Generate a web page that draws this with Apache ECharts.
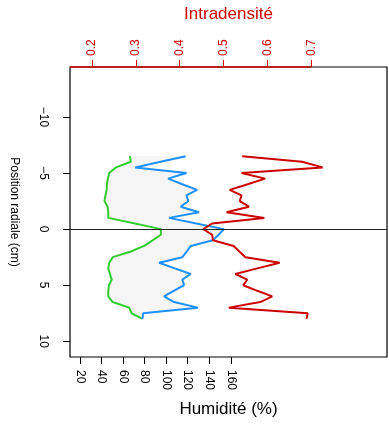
<!DOCTYPE html>
<html><head><meta charset="utf-8">
<script src="https://cdn.jsdelivr.net/npm/echarts@6/dist/echarts.min.js"></script>
<style>html,body{margin:0;padding:0;background:#fff}#c{width:389px;height:428px}</style>
</head><body><div id="c"></div>
<script>
// Radial positions (cm)
const positions = [-6.5,-6,-5.5,-5,-4.5,-4,-3.5,-3,-2.5,-2,-1.5,-1,-0.5,0,0.5,1,1.5,2,2.5,3,3.5,4,4.5,5,5.5,6,6.5,7,7.5,8];
// Humidity (%) - lower curve (green)
const humLow = [66.3,67.2,53.3,47.1,45.9,45,44.7,43.6,42.7,45.6,46.2,46.2,71,95,95,87.3,79.5,67.2,50.3,47.1,46.2,47.8,49.4,46.9,46.2,46.2,50.3,65.6,67.9,78];
// Humidity (%) - upper curve (blue)
const humHigh = [118.1,94.8,71.2,118.8,101.8,115,128.7,118.8,120.6,113.5,130.5,102.7,128,153.6,148.7,143.4,122.8,119,115,93.4,108,122.8,115,116.6,107,98,107.3,129.5,78.6,78];
// Intradensity (red, top axis)
const intradens = [0.5425,0.679,0.726,0.541,0.595,0.555,0.514,0.541,0.537,0.558,0.507,0.593,0.474,0.454,0.474,0.476,0.523,0.536,0.55,0.628,0.577,0.527,0.554,0.545,0.577,0.611,0.584,0.512,0.692,0.689];
// Tick labels
const humTicks = [20,40,60,80,100,120,140,160];
const densTicks = [0.2,0.3,0.4,0.5,0.6,0.7];
const posTicks = [-10,-5,0,5,10];

const FONT = '"Liberation Sans", Arial, sans-serif';
const RED = '#cc0000';
const posMin = -14.45, posMax = 11.4;
const humAxisMin = 10.7, humAxisMax = 305;
const densAxisMin = 0.15, densAxisMax = 0.8727;

const chart = echarts.init(document.getElementById('c'));
chart.setOption({
  animation: false,
  grid: {left: 69, right: 2, top: 67, bottom: 71, show: true, borderColor: '#000', borderWidth: 1.2, backgroundColor: 'transparent'},
  xAxis: [
    {type: 'value', position: 'bottom', min: humAxisMin, max: humAxisMax,
     name: 'Humidité (%)', nameLocation: 'middle', nameGap: 44,
     nameTextStyle: {fontFamily: FONT, fontSize: 17, color: '#000'},
     axisLine: {show: false, onZero: false}, splitLine: {show: false},
     axisTick: {show: true, length: 7, inside: false, customValues: humTicks, lineStyle: {color: '#000'}},
     axisLabel: {customValues: humTicks, rotate: -90, margin: 13, fontFamily: FONT, fontSize: 12, color: '#000'}},
    {type: 'value', position: 'top', min: densAxisMin, max: densAxisMax,
     name: 'Intradensité', nameLocation: 'middle', nameGap: 44,
     nameTextStyle: {fontFamily: FONT, fontSize: 17, color: RED},
     axisLine: {show: false, onZero: false}, splitLine: {show: false},
     axisTick: {show: true, length: 7, customValues: densTicks, lineStyle: {color: RED}},
     axisLabel: {customValues: densTicks, rotate: -90, margin: 11, fontFamily: FONT, fontSize: 12, color: RED}}
  ],
  yAxis: [
    {type: 'value', inverse: true, min: posMin, max: posMax,
     name: 'Position radiale (cm)', nameLocation: 'middle', nameGap: 50, nameRotate: -90,
     nameTextStyle: {fontFamily: FONT, fontSize: 12, color: '#000'},
     axisLine: {show: false, onZero: false}, splitLine: {show: false},
     axisTick: {show: true, length: 7, customValues: posTicks, lineStyle: {color: '#000'}},
     axisLabel: {customValues: posTicks, rotate: -90, margin: 21, fontFamily: FONT, fontSize: 12, color: '#000',
                 formatter: v => (v < 0 ? '\u2212' + Math.abs(v) : String(v))}}
  ],
  series: [
    {type: 'custom', xAxisIndex: 0, yAxisIndex: 0, silent: true, z: 1,
     data: [[humLow[0], positions[0]]],
     renderItem: function (params, api) {
       const pts = [];
       for (let i = 0; i < positions.length; i++) pts.push(api.coord([humLow[i], positions[i]]));
       for (let i = positions.length - 1; i >= 0; i--) pts.push(api.coord([humHigh[i], positions[i]]));
       return {type: 'polygon', shape: {points: pts}, style: {fill: '#f5f5f5', stroke: null}};
     }},
    {type: 'line', xAxisIndex: 0, yAxisIndex: 0, symbol: 'none', z: 3,
     lineStyle: {color: '#33cc33', width: 2},
     data: positions.map((p, i) => [humLow[i], p]),
     markLine: {silent: true, symbol: 'none', label: {show: false},
                lineStyle: {color: '#222', width: 1.2, type: 'solid'},
                data: [{yAxis: 0}]}},
    {type: 'line', xAxisIndex: 0, yAxisIndex: 0, symbol: 'none', z: 3,
     lineStyle: {color: '#1e90ff', width: 2},
     data: positions.map((p, i) => [humHigh[i], p])},
    {type: 'line', xAxisIndex: 1, yAxisIndex: 0, symbol: 'none', z: 4,
     lineStyle: {color: RED, width: 2},
     data: positions.map((p, i) => [intradens[i], p]),
     markLine: {silent: true, symbol: 'none', label: {show: false},
                lineStyle: {color: RED, width: 1.5, type: 'solid'},
                data: [[{coord: [densAxisMin, posMin]}, {coord: [densTicks[densTicks.length - 1], posMin]}]]}}
  ]
});
</script>
</body></html>
